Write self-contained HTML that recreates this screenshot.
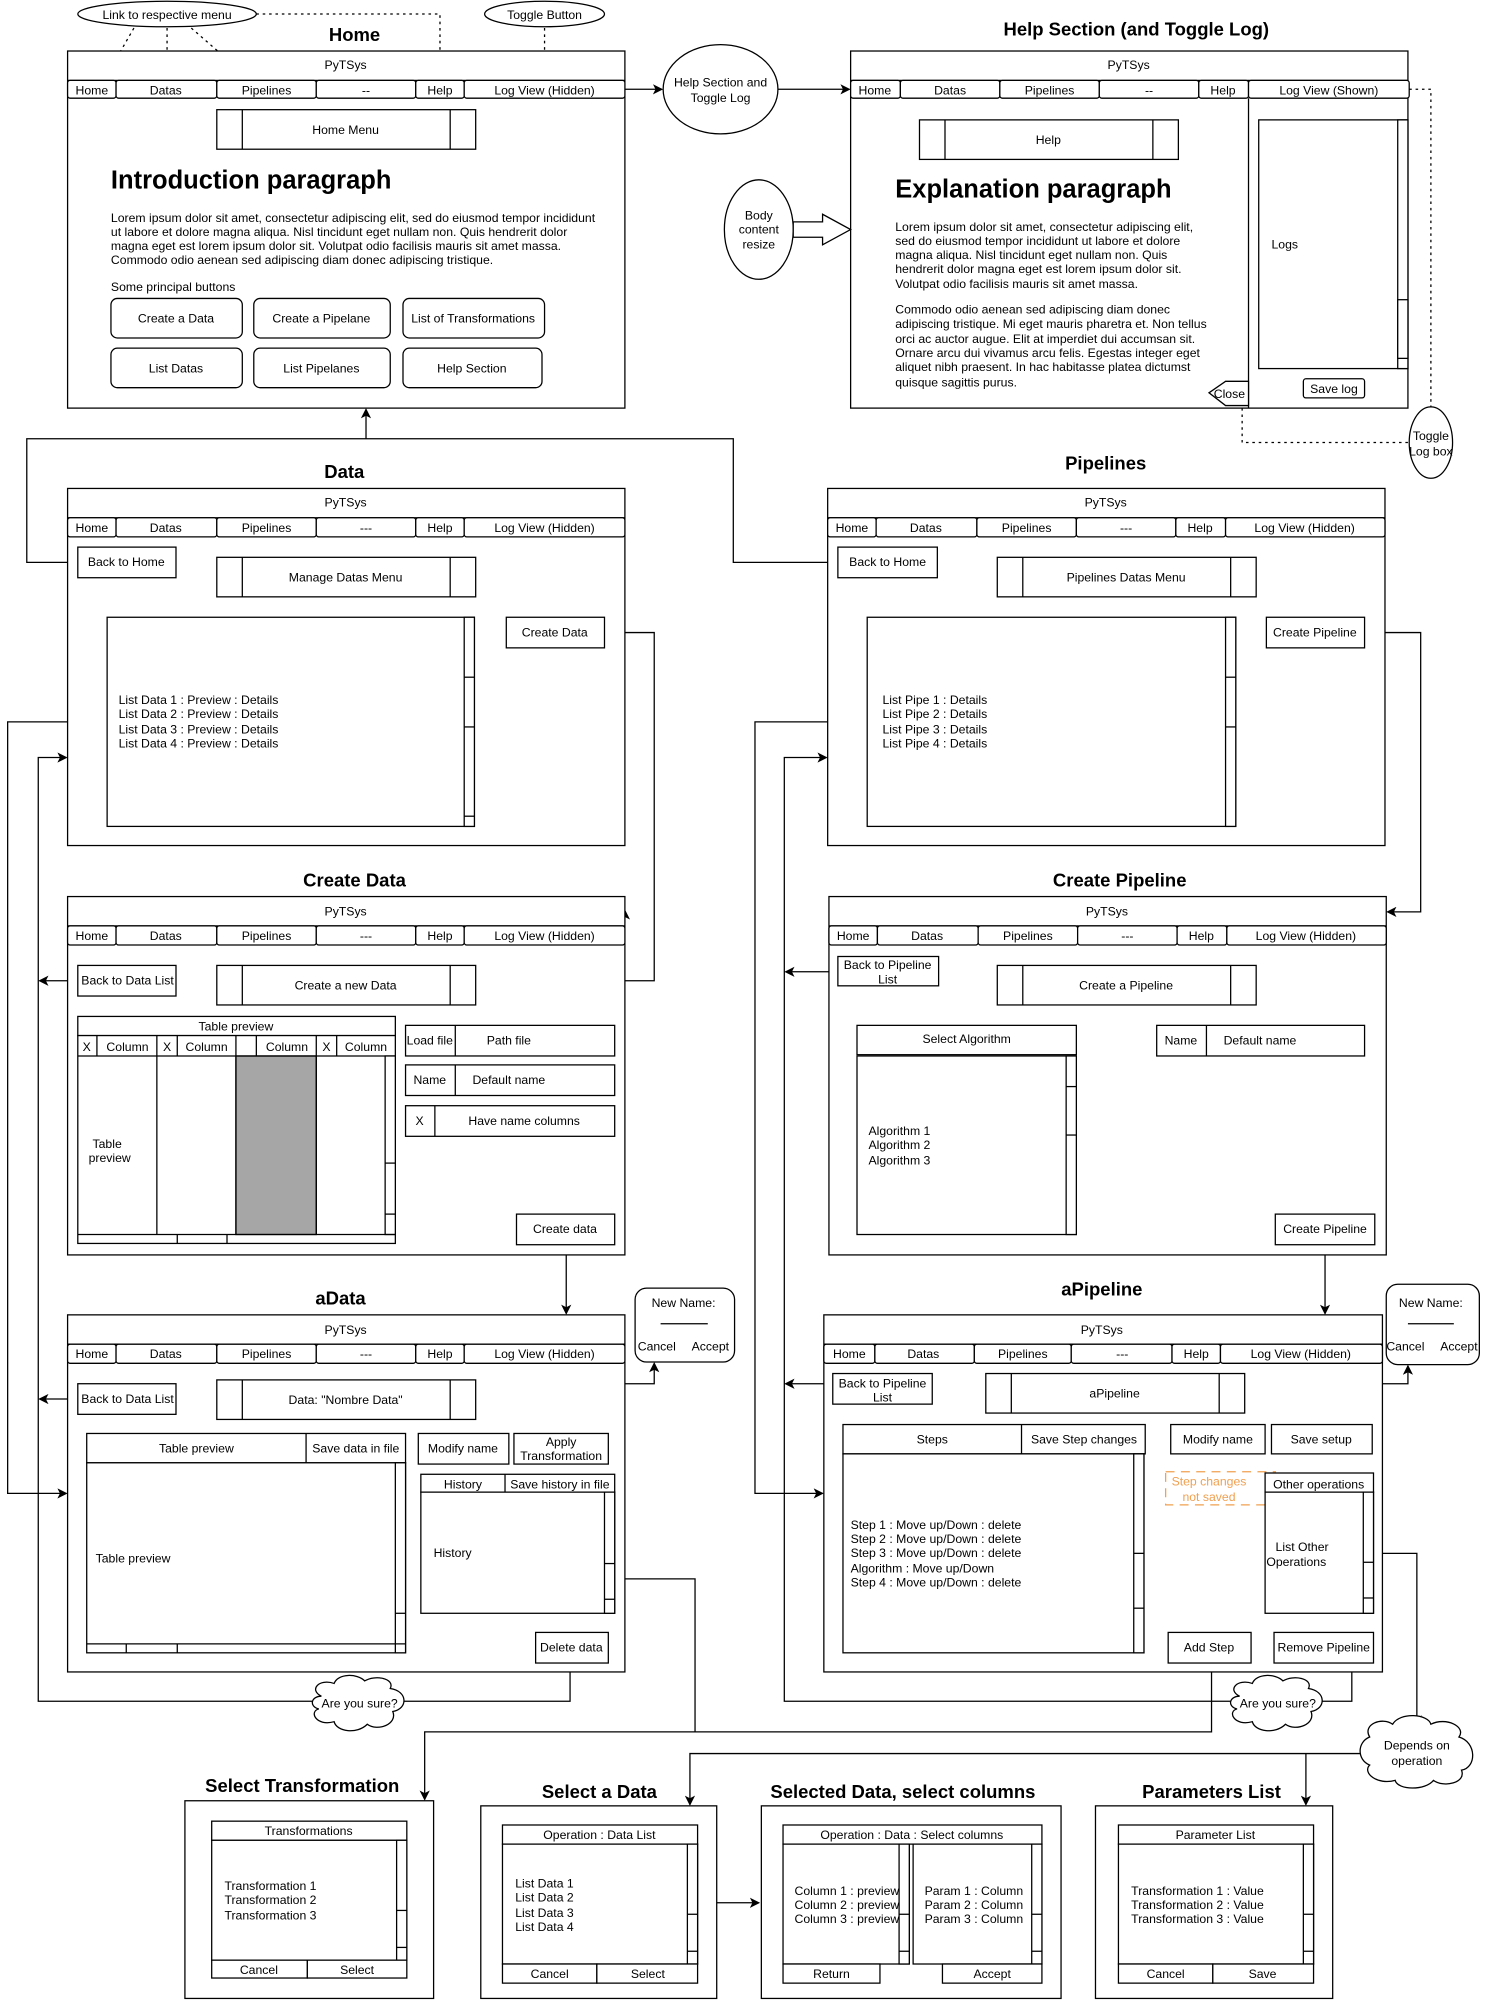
<!DOCTYPE html>
<html><head><meta charset="utf-8"><style>
html,body{margin:0;padding:0;background:#fff}
svg{display:block}
text{font-family:"Liberation Sans",Arial,sans-serif;font-size:9.6px;fill:#000}
.c{text-anchor:middle}
.t{font-weight:bold;font-size:14.5px;text-anchor:middle}
.h{font-weight:bold;font-size:20px}
rect,ellipse,polygon,path.s{fill:#fff;stroke:#000;stroke-width:1}
line,polyline{stroke:#000;stroke-width:1;fill:none}
.d{stroke-dasharray:2,3}
</style></head><body>
<svg width="1487" height="2008" viewBox="0 0 1166 1574.5" preserveAspectRatio="none" xmlns="http://www.w3.org/2000/svg">
<defs><marker id="a" markerWidth="8" markerHeight="8" refX="7" refY="4" orient="auto" markerUnits="userSpaceOnUse"><path d="M0,0 L8,4 L0,8 L2,4 z" fill="#000"/></marker></defs>

<polyline points="61,441 21,441 21,344 575,344 575,441 657,441"/>
<line x1="287" y1="344" x2="287" y2="321" marker-end="url(#a)"/>
<line x1="490" y1="70" x2="519" y2="70" marker-end="url(#a)"/>
<line x1="610" y1="70" x2="666" y2="70" marker-end="url(#a)"/>
<polyline points="84,566 6,566 6,1171 52,1171" marker-end="url(#a)"/>
<polyline points="447,1304 447,1334 30,1334 30,594 52,594" marker-end="url(#a)"/>
<line x1="61" y1="769" x2="31" y2="769" marker-end="url(#a)"/>
<line x1="61" y1="1097" x2="31" y2="1097" marker-end="url(#a)"/>
<polyline points="474,496 513,496 513,769 490,769"/>
<line x1="490" y1="724" x2="490" y2="714" marker-end="url(#a)"/>
<line x1="444" y1="976" x2="444" y2="1030" marker-end="url(#a)"/>
<polyline points="388,1124 388,1085 513,1085 513,1069" marker-end="url(#a)"/>
<line x1="440" y1="1148" x2="440" y2="1156"/>
<polyline points="482,1238 545,1238 545,1358"/>
<polyline points="950,1304 950,1358 333,1358 333,1411" marker-end="url(#a)"/>
<polyline points="680,566 592,566 592,1171 645,1171" marker-end="url(#a)"/>
<polyline points="1060,1304 1060,1334 615,1334 615,594 648,594" marker-end="url(#a)"/>
<line x1="657" y1="762" x2="616" y2="762" marker-end="url(#a)"/>
<line x1="653" y1="1085" x2="616" y2="1085" marker-end="url(#a)"/>
<polyline points="1070,496 1114,496 1114,715 1088,715" marker-end="url(#a)"/>
<line x1="1039" y1="976" x2="1039" y2="1030" marker-end="url(#a)"/>
<polyline points="989,1117 989,1085 1104,1085 1104,1071" marker-end="url(#a)"/>
<polyline points="1077,1218 1111,1218 1111,1352" marker-end="url(#a)"/>
<polyline points="1070,1375 541,1375 541,1415" marker-end="url(#a)"/>
<line x1="1024" y1="1375" x2="1024" y2="1415" marker-end="url(#a)"/>
<line x1="562" y1="1492" x2="595" y2="1492" marker-end="url(#a)"/>
<line class="d" x1="105" y1="22" x2="82" y2="62"/>
<line class="d" x1="131" y1="22" x2="131" y2="62"/>
<line class="d" x1="150" y1="22" x2="196" y2="62"/>
<polyline class="d" points="201,11 345,11 345,62"/>
<line class="d" x1="427" y1="22" x2="427" y2="62"/>
<polyline class="d" points="1105,70 1122,70 1122,320"/>
<polyline class="d" points="974,320 974,347 1105,347"/>

<ellipse cx="131" cy="11" rx="70" ry="10"/><text class="c" x="131" y="15">Link to respective menu</text>
<ellipse cx="427" cy="11" rx="47" ry="10"/><text class="c" x="427" y="15">Toggle Button</text>
<text class="t" x="278" y="32">Home</text>
<rect x="53" y="40" width="437" height="280"/><line x1="53" y1="63" x2="490" y2="63"/>
<text class="c" x="271" y="54">PyTSys</text>
<rect x="53" y="63" width="38" height="14" rx="2"/><text class="c" x="72" y="74">Home</text>
<rect x="91" y="63" width="79" height="14" rx="2"/><text class="c" x="130" y="74">Datas</text>
<rect x="170" y="63" width="78" height="14" rx="2"/><text class="c" x="209" y="74">Pipelines</text>
<rect x="248" y="63" width="78" height="14" rx="2"/><text class="c" x="287" y="74">--</text>
<rect x="326" y="63" width="38" height="14" rx="2"/><text class="c" x="345" y="74">Help</text>
<rect x="364" y="63" width="126" height="14" rx="2"/><text class="c" x="427" y="74">Log View (Hidden)</text>
<rect x="170" y="86" width="203" height="31"/><line x1="190" y1="86" x2="190" y2="117"/><line x1="353" y1="86" x2="353" y2="117"/><text class="c" x="271" y="105">Home Menu</text>
<text class="h" x="87" y="148">Introduction paragraph</text>
<text x="87" y="174">Lorem ipsum dolor sit amet, consectetur adipiscing elit, sed do eiusmod tempor incididunt</text>
<text x="87" y="185">ut labore et dolore magna aliqua. Nisl tincidunt eget nullam non. Quis hendrerit dolor</text>
<text x="87" y="196">magna eget est lorem ipsum dolor sit. Volutpat odio facilisis mauris sit amet massa.</text>
<text x="87" y="207">Commodo odio aenean sed adipiscing diam donec adipiscing tristique.</text>
<text x="87" y="228">Some principal buttons</text>
<rect x="87" y="234" width="103" height="31" rx="5"/><text class="c" x="138" y="253">Create a Data</text>
<rect x="199" y="234" width="107" height="31" rx="5"/><text class="c" x="252" y="253">Create a Pipelane</text>
<rect x="316" y="234" width="111" height="31" rx="5"/><text class="c" x="371" y="253">List of Transformations</text>
<rect x="87" y="273" width="103" height="31" rx="5"/><text class="c" x="138" y="292">List Datas</text>
<rect x="199" y="273" width="107" height="31" rx="5"/><text class="c" x="252" y="292">List Pipelanes</text>
<rect x="316" y="273" width="109" height="31" rx="5"/><text class="c" x="370" y="292">Help Section</text>

<ellipse cx="565" cy="70" rx="45" ry="35"/><text class="c" x="565" y="68">Help Section and</text><text class="c" x="565" y="80">Toggle Log</text>

<text class="t" x="891" y="28">Help Section (and Toggle Log)</text>
<rect x="667" y="40" width="437" height="280"/><line x1="667" y1="63" x2="1104" y2="63"/>
<text class="c" x="885" y="54">PyTSys</text>
<rect x="667" y="63" width="39" height="14" rx="2"/><text class="c" x="686" y="74">Home</text>
<rect x="706" y="63" width="78" height="14" rx="2"/><text class="c" x="745" y="74">Datas</text>
<rect x="784" y="63" width="78" height="14" rx="2"/><text class="c" x="823" y="74">Pipelines</text>
<rect x="862" y="63" width="78" height="14" rx="2"/><text class="c" x="901" y="74">--</text>
<rect x="940" y="63" width="39" height="14" rx="2"/><text class="c" x="959" y="74">Help</text>
<rect x="979" y="63" width="126" height="14" rx="2"/><text class="c" x="1042" y="74">Log View (Shown)</text>
<rect x="721" y="94" width="203" height="31"/><line x1="741" y1="94" x2="741" y2="125"/><line x1="904" y1="94" x2="904" y2="125"/><text class="c" x="822" y="113">Help</text>
<text class="h" x="702" y="155">Explanation paragraph</text>
<text x="702" y="181">Lorem ipsum dolor sit amet, consectetur adipiscing elit,</text>
<text x="702" y="192">sed do eiusmod tempor incididunt ut labore et dolore</text>
<text x="702" y="203">magna aliqua. Nisl tincidunt eget nullam non. Quis</text>
<text x="702" y="214">hendrerit dolor magna eget est lorem ipsum dolor sit.</text>
<text x="702" y="226">Volutpat odio facilisis mauris sit amet massa.</text>
<text x="702" y="246">Commodo odio aenean sed adipiscing diam donec</text>
<text x="702" y="257">adipiscing tristique. Mi eget mauris pharetra et. Non tellus</text>
<text x="702" y="269">orci ac auctor augue. Elit at imperdiet dui accumsan sit.</text>
<text x="702" y="280">Ornare arcu dui vivamus arcu felis. Egestas integer eget</text>
<text x="702" y="291">aliquet nibh praesent. In hac habitasse platea dictumst</text>
<text x="702" y="303">quisque sagittis purus.</text>
<line x1="979" y1="77" x2="979" y2="320"/>
<rect x="987" y="94" width="117" height="195"/><rect x="1096" y="94" width="8" height="195"/><rect x="1096" y="235" width="8" height="46"/>
<text x="997" y="195">Logs</text>
<rect x="1022" y="297" width="48" height="15" rx="2"/><text class="c" x="1046" y="308">Save log</text>
<polygon points="979,299 961,299 948,308 961,318 979,318"/><text class="c" x="964" y="312">Close</text>
<ellipse cx="1122" cy="347" rx="17" ry="28"/><text class="c" x="1122" y="345">Toggle</text><text class="c" x="1122" y="357">Log box</text>
<ellipse cx="595" cy="180" rx="27" ry="39"/><text class="c" x="595" y="172">Body</text><text class="c" x="595" y="183">content</text><text class="c" x="595" y="195">resize</text>
<polygon points="622,174 645,174 645,168 667,180 645,192 645,186 622,186"/>

<text class="t" x="270" y="375">Data</text>
<rect x="53" y="383" width="437" height="280"/><line x1="53" y1="406" x2="490" y2="406"/>
<text class="c" x="271" y="397">PyTSys</text>
<rect x="53" y="406" width="38" height="15" rx="2"/><text class="c" x="72" y="417">Home</text>
<rect x="91" y="406" width="79" height="15" rx="2"/><text class="c" x="130" y="417">Datas</text>
<rect x="170" y="406" width="78" height="15" rx="2"/><text class="c" x="209" y="417">Pipelines</text>
<rect x="248" y="406" width="78" height="15" rx="2"/><text class="c" x="287" y="417">---</text>
<rect x="326" y="406" width="38" height="15" rx="2"/><text class="c" x="345" y="417">Help</text>
<rect x="364" y="406" width="126" height="15" rx="2"/><text class="c" x="427" y="417">Log View (Hidden)</text>
<rect x="61" y="429" width="77" height="24"/><text class="c" x="99" y="444">Back to Home</text>
<rect x="170" y="437" width="203" height="31"/><line x1="190" y1="437" x2="190" y2="468"/><line x1="353" y1="437" x2="353" y2="468"/><text class="c" x="271" y="456">Manage Datas Menu</text>
<rect x="397" y="484" width="77" height="24"/><text class="c" x="435" y="499">Create Data</text>
<rect x="84" y="484" width="288" height="164"/><rect x="364" y="484" width="8" height="164"/><line x1="364" y1="531" x2="372" y2="531"/><line x1="364" y1="570" x2="372" y2="570"/><line x1="364" y1="640" x2="372" y2="640"/>
<text x="93" y="552">List Data 1 : Preview : Details</text><text x="93" y="563">List Data 2 : Preview : Details</text><text x="93" y="575">List Data 3 : Preview : Details</text><text x="93" y="586">List Data 4 : Preview : Details</text>

<text class="t" x="867" y="368">Pipelines</text>
<rect x="649" y="383" width="437" height="280"/><line x1="649" y1="406" x2="1086" y2="406"/>
<text class="c" x="867" y="397">PyTSys</text>
<rect x="649" y="406" width="38" height="15" rx="2"/><text class="c" x="668" y="417">Home</text>
<rect x="687" y="406" width="79" height="15" rx="2"/><text class="c" x="726" y="417">Datas</text>
<rect x="766" y="406" width="78" height="15" rx="2"/><text class="c" x="805" y="417">Pipelines</text>
<rect x="844" y="406" width="78" height="15" rx="2"/><text class="c" x="883" y="417">---</text>
<rect x="922" y="406" width="39" height="15" rx="2"/><text class="c" x="941" y="417">Help</text>
<rect x="961" y="406" width="125" height="15" rx="2"/><text class="c" x="1023" y="417">Log View (Hidden)</text>
<rect x="657" y="429" width="78" height="24"/><text class="c" x="696" y="444">Back to Home</text>
<rect x="782" y="437" width="203" height="31"/><line x1="802" y1="437" x2="802" y2="468"/><line x1="965" y1="437" x2="965" y2="468"/><text class="c" x="883" y="456">Pipelines Datas Menu</text>
<rect x="993" y="484" width="77" height="24"/><text class="c" x="1031" y="499">Create Pipeline</text>
<rect x="680" y="484" width="289" height="164"/><rect x="961" y="484" width="8" height="164"/><line x1="961" y1="531" x2="969" y2="531"/><line x1="961" y1="570" x2="969" y2="570"/>
<text x="692" y="552">List Pipe 1 : Details</text><text x="692" y="563">List Pipe 2 : Details</text><text x="692" y="575">List Pipe 3 : Details</text><text x="692" y="586">List Pipe 4 : Details</text>

<text class="t" x="278" y="695">Create Data</text>
<rect x="53" y="703" width="437" height="281"/><line x1="53" y1="726" x2="490" y2="726"/>
<text class="c" x="271" y="718">PyTSys</text>
<rect x="53" y="726" width="38" height="15" rx="2"/><text class="c" x="72" y="737">Home</text>
<rect x="91" y="726" width="79" height="15" rx="2"/><text class="c" x="130" y="737">Datas</text>
<rect x="170" y="726" width="78" height="15" rx="2"/><text class="c" x="209" y="737">Pipelines</text>
<rect x="248" y="726" width="78" height="15" rx="2"/><text class="c" x="287" y="737">---</text>
<rect x="326" y="726" width="38" height="15" rx="2"/><text class="c" x="345" y="737">Help</text>
<rect x="364" y="726" width="126" height="15" rx="2"/><text class="c" x="427" y="737">Log View (Hidden)</text>
<rect x="61" y="757" width="77" height="24"/><text class="c" x="100" y="772">Back to Data List</text>
<rect x="170" y="757" width="203" height="31"/><line x1="190" y1="757" x2="190" y2="788"/><line x1="353" y1="757" x2="353" y2="788"/><text class="c" x="271" y="776">Create a new Data</text>
<rect x="61" y="797" width="249" height="15"/><text class="c" x="185" y="808">Table preview</text>
<rect x="61" y="812" width="249" height="163"/>
<rect x="185" y="828" width="63" height="140" style="fill:#a6a6a6"/>
<line x1="61" y1="828" x2="310" y2="828"/>
<line x1="76" y1="812" x2="76" y2="828"/><line x1="123" y1="812" x2="123" y2="968"/><line x1="139" y1="812" x2="139" y2="828"/><line x1="185" y1="812" x2="185" y2="968"/><line x1="201" y1="812" x2="201" y2="828"/><line x1="248" y1="812" x2="248" y2="968"/><line x1="264" y1="812" x2="264" y2="828"/>
<text class="c" x="68" y="824">X</text><text class="c" x="100" y="824">Column</text><text class="c" x="131" y="824">X</text><text class="c" x="162" y="824">Column</text><text class="c" x="225" y="824">Column</text><text class="c" x="256" y="824">X</text><text class="c" x="287" y="824">Column</text>
<rect x="302" y="828" width="8" height="140"/><line x1="302" y1="912" x2="310" y2="912"/><line x1="302" y1="952" x2="310" y2="952"/>
<line x1="61" y1="968" x2="310" y2="968"/><line x1="139" y1="968" x2="139" y2="975"/><line x1="178" y1="968" x2="178" y2="975"/>
<text class="c" x="84" y="900">Table</text><text class="c" x="86" y="911">preview</text>
<rect x="318" y="804" width="164" height="24"/><line x1="357" y1="804" x2="357" y2="828"/><text class="c" x="337" y="819">Load file</text><text class="c" x="399" y="819">Path file</text>
<rect x="318" y="835" width="164" height="24"/><line x1="357" y1="835" x2="357" y2="859"/><text class="c" x="337" y="850">Name</text><text class="c" x="399" y="850">Default name</text>
<rect x="318" y="867" width="164" height="24"/><line x1="341" y1="867" x2="341" y2="891"/><text class="c" x="329" y="882">X</text><text class="c" x="411" y="882">Have name columns</text>
<rect x="405" y="952" width="77" height="24"/><text class="c" x="443" y="967">Create data</text>

<text class="t" x="878" y="695">Create Pipeline</text>
<rect x="650" y="703" width="437" height="281"/><line x1="650" y1="726" x2="1087" y2="726"/>
<text class="c" x="868" y="718">PyTSys</text>
<rect x="650" y="726" width="38" height="15" rx="2"/><text class="c" x="669" y="737">Home</text>
<rect x="688" y="726" width="79" height="15" rx="2"/><text class="c" x="727" y="737">Datas</text>
<rect x="767" y="726" width="78" height="15" rx="2"/><text class="c" x="806" y="737">Pipelines</text>
<rect x="845" y="726" width="78" height="15" rx="2"/><text class="c" x="884" y="737">---</text>
<rect x="923" y="726" width="39" height="15" rx="2"/><text class="c" x="942" y="737">Help</text>
<rect x="962" y="726" width="125" height="15" rx="2"/><text class="c" x="1024" y="737">Log View (Hidden)</text>
<rect x="657" y="750" width="79" height="23"/><text class="c" x="696" y="760">Back to Pipeline</text><text class="c" x="696" y="771">List</text>
<rect x="782" y="757" width="203" height="31"/><line x1="802" y1="757" x2="802" y2="788"/><line x1="965" y1="757" x2="965" y2="788"/><text class="c" x="883" y="776">Create a Pipeline</text>
<rect x="672" y="804" width="172" height="23"/><text class="c" x="758" y="818">Select Algorithm</text>
<rect x="672" y="828" width="172" height="140"/><rect x="836" y="828" width="8" height="140"/><line x1="836" y1="852" x2="844" y2="852"/><line x1="836" y1="890" x2="844" y2="890"/>
<text x="681" y="890">Algorithm 1</text><text x="681" y="901">Algorithm 2</text><text x="681" y="913">Algorithm 3</text>
<rect x="907" y="804" width="163" height="24"/><line x1="946" y1="804" x2="946" y2="828"/><text class="c" x="926" y="819">Name</text><text class="c" x="988" y="819">Default name</text>
<rect x="1000" y="952" width="78" height="24"/><text class="c" x="1039" y="967">Create Pipeline</text>

<text class="t" x="267" y="1023">aData</text>
<rect x="53" y="1031" width="437" height="280"/><line x1="53" y1="1054" x2="490" y2="1054"/>
<text class="c" x="271" y="1046">PyTSys</text>
<rect x="53" y="1054" width="38" height="15" rx="2"/><text class="c" x="72" y="1065">Home</text>
<rect x="91" y="1054" width="79" height="15" rx="2"/><text class="c" x="130" y="1065">Datas</text>
<rect x="170" y="1054" width="78" height="15" rx="2"/><text class="c" x="209" y="1065">Pipelines</text>
<rect x="248" y="1054" width="78" height="15" rx="2"/><text class="c" x="287" y="1065">---</text>
<rect x="326" y="1054" width="38" height="15" rx="2"/><text class="c" x="345" y="1065">Help</text>
<rect x="364" y="1054" width="126" height="15" rx="2"/><text class="c" x="427" y="1065">Log View (Hidden)</text>
<rect x="61" y="1085" width="77" height="24"/><text class="c" x="100" y="1100">Back to Data List</text>
<rect x="170" y="1082" width="203" height="31"/><line x1="190" y1="1082" x2="190" y2="1113"/><line x1="353" y1="1082" x2="353" y2="1113"/><text class="c" x="271" y="1101">Data: "Nombre Data"</text>
<rect x="68" y="1124" width="250" height="23"/><line x1="240" y1="1124" x2="240" y2="1147"/><text class="c" x="154" y="1139">Table preview</text><text class="c" x="279" y="1139">Save data in file</text>
<rect x="68" y="1147" width="250" height="149"/><rect x="310" y="1147" width="8" height="149"/><line x1="310" y1="1265" x2="318" y2="1265"/>
<line x1="68" y1="1289" x2="318" y2="1289"/><line x1="99" y1="1289" x2="99" y2="1296"/><line x1="139" y1="1289" x2="139" y2="1296"/>
<text x="75" y="1225">Table preview</text>
<rect x="328" y="1124" width="71" height="24"/><text class="c" x="363" y="1139">Modify name</text>
<rect x="403" y="1124" width="74" height="24"/><text class="c" x="440" y="1134">Apply</text><text class="c" x="440" y="1145">Transformation</text>
<rect x="330" y="1156" width="152" height="14"/><line x1="396" y1="1156" x2="396" y2="1170"/><text class="c" x="363" y="1167">History</text><text class="c" x="439" y="1167">Save history in file</text>
<rect x="330" y="1170" width="152" height="95"/><rect x="474" y="1170" width="8" height="95"/><line x1="474" y1="1226" x2="482" y2="1226"/><line x1="474" y1="1254" x2="482" y2="1254"/>
<text x="340" y="1221">History</text>
<rect x="420" y="1280" width="57" height="24"/><text class="c" x="448" y="1295">Delete data</text>
<rect x="498" y="1010" width="78" height="58" rx="9"/><text class="c" x="536" y="1025">New Name:</text><line x1="518" y1="1038" x2="555" y2="1038"/><text class="c" x="515" y="1059">Cancel</text><text class="c" x="557" y="1059">Accept</text>

<text class="t" x="864" y="1016">aPipeline</text>
<rect x="646" y="1031" width="438" height="280"/><line x1="646" y1="1054" x2="1084" y2="1054"/>
<text class="c" x="864" y="1046">PyTSys</text>
<rect x="646" y="1054" width="40" height="15" rx="2"/><text class="c" x="666" y="1065">Home</text>
<rect x="686" y="1054" width="78" height="15" rx="2"/><text class="c" x="724" y="1065">Datas</text>
<rect x="764" y="1054" width="76" height="15" rx="2"/><text class="c" x="802" y="1065">Pipelines</text>
<rect x="840" y="1054" width="79" height="15" rx="2"/><text class="c" x="880" y="1065">---</text>
<rect x="919" y="1054" width="38" height="15" rx="2"/><text class="c" x="938" y="1065">Help</text>
<rect x="957" y="1054" width="127" height="15" rx="2"/><text class="c" x="1020" y="1065">Log View (Hidden)</text>
<rect x="653" y="1077" width="78" height="24"/><text class="c" x="692" y="1088">Back to Pipeline</text><text class="c" x="692" y="1099">List</text>
<rect x="773" y="1077" width="203" height="31"/><line x1="793" y1="1077" x2="793" y2="1108"/><line x1="956" y1="1077" x2="956" y2="1108"/><text class="c" x="874" y="1096">aPipeline</text>
<rect x="661" y="1117" width="237" height="23"/><line x1="801" y1="1117" x2="801" y2="1140"/><text class="c" x="731" y="1132">Steps</text><text class="c" x="850" y="1132">Save Step changes</text>
<rect x="661" y="1140" width="236" height="156"/><rect x="889" y="1140" width="8" height="156"/><line x1="889" y1="1218" x2="897" y2="1218"/><line x1="889" y1="1261" x2="897" y2="1261"/>
<text x="667" y="1199">Step 1 : Move up/Down : delete</text><text x="667" y="1210">Step 2 : Move up/Down : delete</text><text x="667" y="1221">Step 3 : Move up/Down : delete</text><text x="667" y="1233">Algorithm : Move up/Down</text><text x="667" y="1244">Step 4 : Move up/Down : delete</text>
<rect x="918" y="1117" width="74" height="23"/><text class="c" x="955" y="1132">Modify name</text>
<rect x="997" y="1117" width="79" height="23"/><text class="c" x="1036" y="1132">Save setup</text>
<rect x="914" y="1154" width="86" height="26" style="stroke:#f0a050;stroke-dasharray:7,5"/><text class="c" x="948" y="1165" style="fill:#f0a050">Step changes</text><text class="c" x="948" y="1177" style="fill:#f0a050">not saved</text>
<rect x="992" y="1155" width="85" height="15"/><text class="c" x="1034" y="1167">Other operations</text>
<rect x="992" y="1170" width="85" height="95"/><rect x="1069" y="1170" width="8" height="95"/><line x1="1069" y1="1225" x2="1077" y2="1225"/><line x1="1069" y1="1253" x2="1077" y2="1253"/>
<text class="c" x="1021" y="1216">List Other</text><text x="993" y="1228">Operations</text>
<rect x="916" y="1280" width="65" height="24"/><text class="c" x="948" y="1295">Add Step</text>
<rect x="999" y="1280" width="78" height="24"/><text class="c" x="1038" y="1295">Remove Pipeline</text>
<rect x="1087" y="1007" width="73" height="63" rx="9"/><text class="c" x="1122" y="1025">New Name:</text><line x1="1104" y1="1038" x2="1140" y2="1038"/><text class="c" x="1102" y="1059">Cancel</text><text class="c" x="1144" y="1059">Accept</text>

<path class="s" d="M252,1330 C242,1325 250,1316 262,1320 C265,1312 280,1312 286,1318 C294,1313 310,1316 306,1324 C320,1326 320,1340 308,1342 C312,1352 296,1358 288,1352 C280,1360 264,1358 262,1350 C248,1354 242,1342 250,1340 C242,1338 244,1330 252,1330 Z"/><text class="c" x="282" y="1339">Are you sure?</text>
<path class="s" d="M972,1330 C962,1325 970,1316 982,1320 C985,1312 1000,1312 1006,1318 C1014,1313 1030,1316 1026,1324 C1040,1326 1040,1340 1028,1342 C1032,1352 1016,1358 1008,1352 C1000,1360 984,1358 982,1350 C968,1354 962,1342 970,1340 C962,1338 964,1330 972,1330 Z"/><text class="c" x="1002" y="1339">Are you sure?</text>
<path class="s" d="M1074,1362 C1068,1352 1084,1346 1092,1352 C1098,1342 1120,1344 1122,1352 C1134,1346 1150,1354 1144,1362 C1158,1366 1158,1386 1146,1388 C1150,1398 1132,1402 1124,1396 C1118,1404 1096,1404 1094,1396 C1080,1400 1068,1390 1074,1384 C1064,1380 1064,1366 1074,1362 Z"/><text class="c" x="1111" y="1372">Depends on</text><text class="c" x="1111" y="1384">operation</text>

<text class="t" x="237" y="1405">Select Transformation</text>
<rect x="145" y="1412" width="195" height="155"/>
<rect x="166" y="1428" width="153" height="15"/><text class="c" x="242" y="1439">Transformations</text>
<rect x="166" y="1443" width="153" height="94"/><rect x="311" y="1443" width="8" height="94"/><line x1="311" y1="1498" x2="319" y2="1498"/><line x1="311" y1="1527" x2="319" y2="1527"/>
<text x="176" y="1482">Transformation 1</text><text x="176" y="1493">Transformation 2</text><text x="176" y="1505">Transformation 3</text>
<rect x="166" y="1537" width="75" height="14"/><text class="c" x="203" y="1548">Cancel</text><rect x="241" y="1537" width="78" height="14"/><text class="c" x="280" y="1548">Select</text>

<text class="t" x="470" y="1410">Select a Data</text>
<rect x="377" y="1416" width="185" height="151"/>
<rect x="394" y="1431" width="153" height="15"/><text class="c" x="470" y="1442">Operation : Data List</text>
<rect x="394" y="1446" width="153" height="94"/><rect x="539" y="1446" width="8" height="94"/><line x1="539" y1="1501" x2="547" y2="1501"/><line x1="539" y1="1530" x2="547" y2="1530"/>
<text x="404" y="1480">List Data 1</text><text x="404" y="1491">List Data 2</text><text x="404" y="1503">List Data 3</text><text x="404" y="1514">List Data 4</text>
<rect x="394" y="1540" width="74" height="15"/><text class="c" x="431" y="1551">Cancel</text><rect x="468" y="1540" width="79" height="15"/><text class="c" x="508" y="1551">Select</text>

<text class="t" x="708" y="1410">Selected Data, select columns</text>
<rect x="597" y="1416" width="235" height="151"/>
<rect x="614" y="1431" width="203" height="15"/><text class="c" x="715" y="1442">Operation : Data : Select columns</text>
<rect x="614" y="1446" width="99" height="94"/><rect x="705" y="1446" width="8" height="94"/><line x1="705" y1="1501" x2="713" y2="1501"/><line x1="705" y1="1530" x2="713" y2="1530"/>
<rect x="716" y="1446" width="101" height="94"/><rect x="809" y="1446" width="8" height="94"/><line x1="809" y1="1501" x2="817" y2="1501"/><line x1="809" y1="1530" x2="817" y2="1530"/>
<text x="623" y="1486">Column 1 : preview</text><text x="623" y="1497">Column 2 : preview</text><text x="623" y="1508">Column 3 : preview</text>
<text x="725" y="1486">Param 1 : Column</text><text x="725" y="1497">Param 2 : Column</text><text x="725" y="1508">Param 3 : Column</text>
<rect x="614" y="1540" width="76" height="15"/><text class="c" x="652" y="1551">Return</text><rect x="739" y="1540" width="78" height="15"/><text class="c" x="778" y="1551">Accept</text>

<text class="t" x="950" y="1410">Parameters List</text>
<rect x="859" y="1416" width="186" height="151"/>
<rect x="877" y="1431" width="153" height="15"/><text class="c" x="953" y="1442">Parameter List</text>
<rect x="877" y="1446" width="153" height="94"/><rect x="1022" y="1446" width="8" height="94"/><line x1="1022" y1="1501" x2="1030" y2="1501"/><line x1="1022" y1="1530" x2="1030" y2="1530"/>
<text x="887" y="1486">Transformation 1 : Value</text><text x="887" y="1497">Transformation 2 : Value</text><text x="887" y="1508">Transformation 3 : Value</text>
<rect x="877" y="1540" width="74" height="15"/><text class="c" x="914" y="1551">Cancel</text><rect x="951" y="1540" width="79" height="15"/><text class="c" x="990" y="1551">Save</text>
</svg>
</body></html>
